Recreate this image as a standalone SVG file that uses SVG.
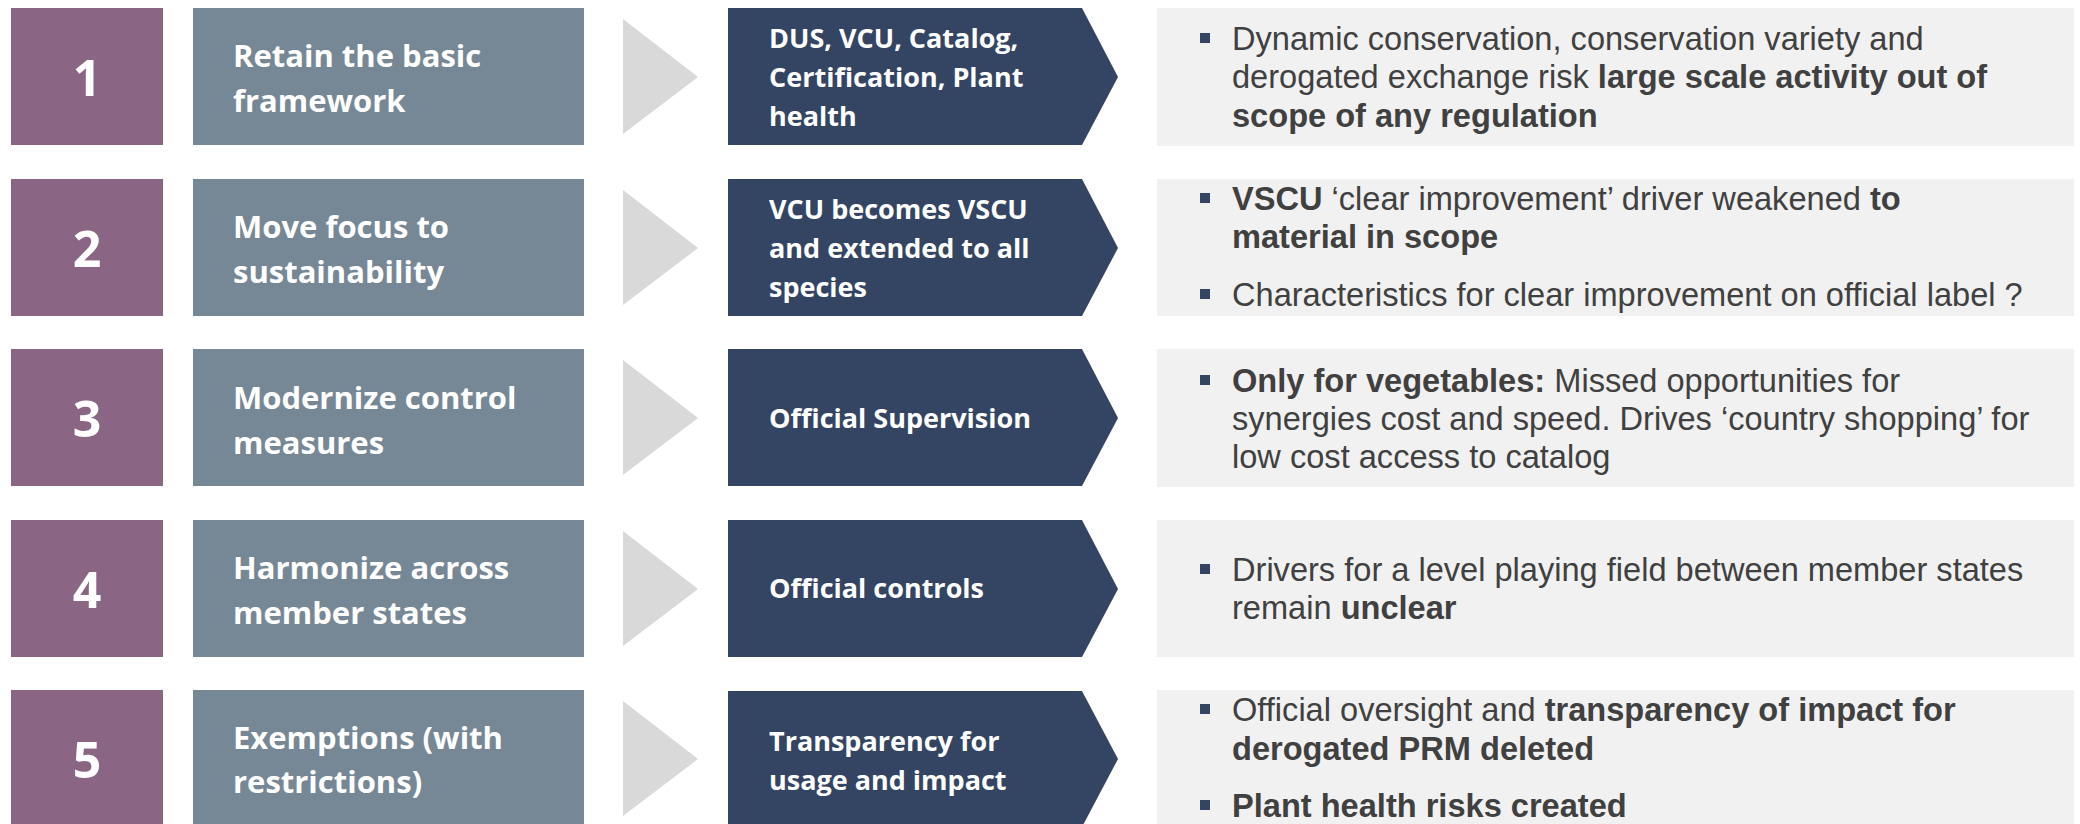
<svg xmlns="http://www.w3.org/2000/svg" width="2080" height="824" viewBox="0 0 2080 824">
<style>
.num{fill:#8A6684}
.lab{fill:#768896}
.dark{fill:#344563}
.note{fill:#F1F1F1}
.arr{fill:#D9D9D9}
.bul{fill:#344563}
.tn{font-family:"Open Sans","Liberation Sans",sans-serif;font-weight:700;font-size:50px;fill:#FFFFFF;text-anchor:middle}
.tl{font-family:"Open Sans","Liberation Sans",sans-serif;font-weight:700;font-size:31px;fill:#FFFFFF}
.td{font-family:"Open Sans","Liberation Sans",sans-serif;font-weight:700;font-size:27px;fill:#FFFFFF}
.tr{font-family:"Liberation Sans",Arial,sans-serif;font-size:32.6px;fill:#404040}
.b{font-weight:700}
</style>
<rect width="2080" height="824" fill="#FFFFFF"/>

<g id="connectors">
<polygon class="arr" points="623,19 698,77 623,134"/>
<polygon class="arr" points="623,190 698,248 623,305"/>
<polygon class="arr" points="623,360 698,418 623,475"/>
<polygon class="arr" points="623,531 698,589 623,646"/>
<polygon class="arr" points="623,701 698,759 623,816"/>
</g>

<!-- Row 1 -->
<g id="num1"><rect class="num" x="11" y="8" width="152" height="137"/><text class="tn" x="87" y="96">1</text></g>
<g id="label1"><rect class="lab" x="193" y="8" width="391" height="137"/><text class="tl" x="233" y="67">Retain the basic</text><text class="tl" x="233" y="112">framework</text></g>
<g id="area1"><polygon class="dark" points="728,8 1082,8 1118,77 1082,145 728,145"/><text class="td" x="769" y="48">DUS, VCU, Catalog,</text><text class="td" x="769" y="87">Certification, Plant</text><text class="td" x="769" y="126">health</text></g>
<g id="note1"><rect class="note" x="1157" y="8" width="917" height="138"/>
<rect class="bul" x="1200" y="33" width="10" height="10"/>
<text class="tr" x="1232" y="50">Dynamic conservation, conservation variety and</text>
<text class="tr" x="1232" y="88">derogated exchange risk <tspan class="b">large scale activity out of</tspan></text>
<text class="tr b" x="1232" y="127">scope of any regulation</text></g>

<!-- Row 2 -->
<g id="num2"><rect class="num" x="11" y="179" width="152" height="137"/><text class="tn" x="87" y="267">2</text></g>
<g id="label2"><rect class="lab" x="193" y="179" width="391" height="137"/><text class="tl" x="233" y="238">Move focus to</text><text class="tl" x="233" y="283">sustainability</text></g>
<g id="area2"><polygon class="dark" points="728,179 1082,179 1118,248 1082,316 728,316"/><text class="td" x="769" y="219">VCU becomes VSCU</text><text class="td" x="769" y="258">and extended to all</text><text class="td" x="769" y="297">species</text></g>
<g id="note2"><rect class="note" x="1157" y="179" width="917" height="137"/>
<rect class="bul" x="1200" y="193" width="10" height="10"/>
<text class="tr" x="1232" y="210"><tspan class="b">VSCU</tspan> ‘clear improvement’ driver weakened <tspan class="b">to</tspan></text>
<text class="tr b" x="1232" y="248">material in scope</text>
<rect class="bul" x="1200" y="289" width="10" height="10"/>
<text class="tr" x="1232" y="306">Characteristics for clear improvement on official label ?</text></g>

<!-- Row 3 -->
<g id="num3"><rect class="num" x="11" y="349" width="152" height="137"/><text class="tn" x="87" y="437">3</text></g>
<g id="label3"><rect class="lab" x="193" y="349" width="391" height="137"/><text class="tl" x="233" y="409">Modernize control</text><text class="tl" x="233" y="454">measures</text></g>
<g id="area3"><polygon class="dark" points="728,349 1082,349 1118,418 1082,486 728,486"/><text class="td" x="769" y="428">Official Supervision</text></g>
<g id="note3"><rect class="note" x="1157" y="349" width="917" height="138"/>
<rect class="bul" x="1200" y="375" width="10" height="10"/>
<text class="tr" x="1232" y="392"><tspan class="b">Only for vegetables:</tspan> Missed opportunities for</text>
<text class="tr" x="1232" y="430">synergies cost and speed. Drives ‘country shopping’ for</text>
<text class="tr" x="1232" y="468">low cost access to catalog</text></g>

<!-- Row 4 -->
<g id="num4"><rect class="num" x="11" y="520" width="152" height="137"/><text class="tn" x="87" y="608">4</text></g>
<g id="label4"><rect class="lab" x="193" y="520" width="391" height="137"/><text class="tl" x="233" y="579">Harmonize across</text><text class="tl" x="233" y="624">member states</text></g>
<g id="area4"><polygon class="dark" points="728,520 1082,520 1118,589 1082,657 728,657"/><text class="td" x="769" y="598">Official controls</text></g>
<g id="note4"><rect class="note" x="1157" y="520" width="917" height="137"/>
<rect class="bul" x="1200" y="564" width="10" height="10"/>
<text class="tr" x="1232" y="581">Drivers for a level playing field between member states</text>
<text class="tr" x="1232" y="619">remain <tspan class="b">unclear</tspan></text></g>

<!-- Row 5 -->
<g id="num5"><rect class="num" x="11" y="690" width="152" height="137"/><text class="tn" x="87" y="778">5</text></g>
<g id="label5"><rect class="lab" x="193" y="690" width="391" height="137"/><text class="tl" x="233" y="749">Exemptions (with</text><text class="tl" x="233" y="793">restrictions)</text></g>
<g id="area5"><polygon class="dark" points="728,691 1082,691 1118,759 1082,827 728,827"/><text class="td" x="769" y="751">Transparency for</text><text class="td" x="769" y="790">usage and impact</text></g>
<g id="note5"><rect class="note" x="1157" y="690" width="917" height="137"/>
<rect class="bul" x="1200" y="704" width="10" height="10"/>
<text class="tr" x="1232" y="721">Official oversight and <tspan class="b">transparency of impact for</tspan></text>
<text class="tr b" x="1232" y="760">derogated PRM deleted</text>
<rect class="bul" x="1200" y="800" width="10" height="10"/>
<text class="tr b" x="1232" y="817">Plant health risks created</text></g>
</svg>
